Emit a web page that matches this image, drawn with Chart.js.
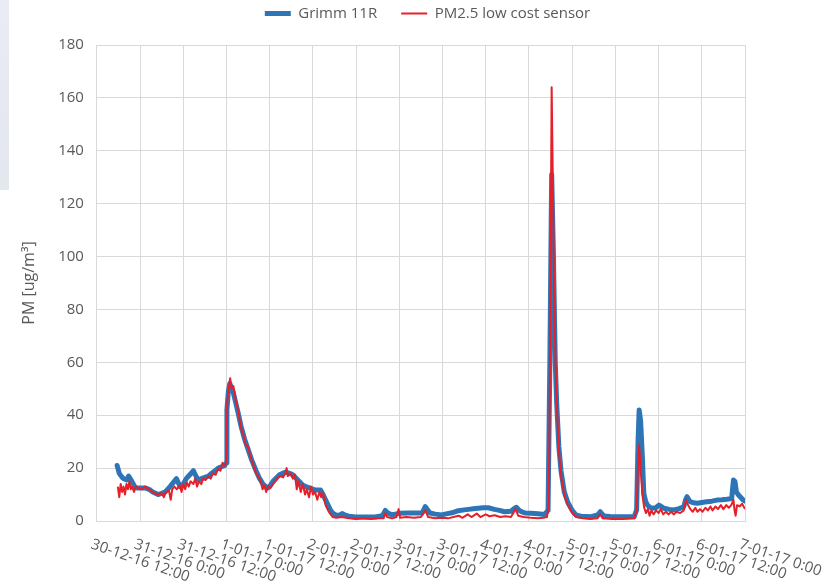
<!DOCTYPE html>
<html>
<head>
<meta charset="utf-8">
<title>Grimm 11R vs PM2.5 low cost sensor</title>
<script src="https://cdn.jsdelivr.net/npm/chart.js@4.4.1/dist/chart.umd.min.js"></script>
<style>
  html, body { margin: 0; padding: 0; background: #fff; }
  #wrap { position: relative; width: 839px; height: 584px; }
  #edge { position: absolute; left: 0; top: 0; width: 9px; height: 190px;
          background: linear-gradient(#e9ecf2, #e3e7ee); }
  canvas { position: absolute; left: 0; top: 0; }
</style>
</head>
<body>
<div id="wrap">
  <canvas id="pm-chart" width="839" height="584"></canvas>
  <div id="edge"></div>
</div>
<script>
'use strict';

// x values are hours since 30-12-16 12:00
const xTickLabels = [
  '30-12-16 12:00', '31-12-16 0:00', '31-12-16 12:00', '1-01-17 0:00',
  '1-01-17 12:00', '2-01-17 0:00', '2-01-17 12:00', '3-01-17 0:00',
  '3-01-17 12:00', '4-01-17 0:00', '4-01-17 12:00', '5-01-17 0:00',
  '5-01-17 12:00', '6-01-17 0:00', '6-01-17 12:00', '7-01-17 0:00'
];

const grimmHours = [
  5.6, 6.2, 7, 7.5, 8.3, 8.8, 9.7, 10.5, 11, 12.5,
  13.4, 14.5, 15.5, 17, 18, 19, 20.3, 21.2, 22.1, 23.1,
  24, 24.8, 25.8, 26.8, 27.5, 28.2, 29, 30, 31, 31.8,
  32.8, 33.7, 34.6, 35.5, 35.9, 36.1, 36.5, 36.9, 37.8, 38.5,
  39.2, 40, 41, 42, 43, 44.2, 45, 46.1, 47, 47.5,
  48.2, 48.9, 50, 50.7, 51.5, 52.5, 53.5, 54.4, 55.8, 57.2,
  58, 59, 60.7, 62.1, 62.8, 63.5, 64.2, 64.9, 65.5, 66.3,
  67.3, 68.2, 69, 70, 71.8, 74, 77.3, 79.3, 80.1, 80.8,
  82, 83.8, 86.6, 88.5, 90.3, 91.2, 92.5, 94, 95.8, 97,
  98.6, 100.4, 102, 103.2, 104.5, 105.9, 107.3, 108.7, 110.4, 111.8,
  113.2, 115, 116, 116.5, 117.2, 117.9, 119, 120.6, 122.5, 124.3,
  125.3, 125.8, 126.3, 126.8, 127.3, 127.7, 128.3, 128.9, 129.8, 130.8,
  132, 133.1, 134.5, 136, 137.2, 138.3, 139.1, 139.8, 140.4, 140.9,
  142.5, 144.6, 147, 149.2, 149.9, 150.3, 150.6, 151, 151.5, 151.9,
  152.4, 152.9, 153.6, 154.3, 155.2, 156.1, 156.8, 157.5, 159, 160.2,
  161.5, 163, 163.5, 163.9, 164.4, 164.8, 165.7, 166.7, 168, 169.4,
  170.8, 172.2, 173.6, 175, 176.3, 176.6, 176.8, 177.2, 177.6, 178.2,
  179.1, 179.5, 180
];
const grimmPM = [
  21, 18, 16.5, 16, 15.5, 17, 15, 13, 12.5, 12.5,
  12.5, 12, 11, 10, 10.5, 11, 13, 14.5, 16, 13,
  14, 16, 17.5, 19, 17, 15.5, 16, 16.5, 17, 18,
  19, 20, 20.5, 21, 22, 42, 49, 52, 49, 45,
  41, 36, 31, 27, 23, 19, 16.5, 14, 12.8, 12.5,
  13.5, 15, 16.5, 17.5, 18, 18.5, 18, 17.5, 15.5, 13.5,
  13, 12.5, 11.7, 11.7, 10, 8, 6, 4, 3, 2.3,
  2.2, 2.8, 2.2, 1.8, 1.5, 1.5, 1.5, 2, 4, 3,
  2.3, 2.9, 3, 3, 3, 5.4, 3, 2.6, 2.3, 2.7,
  3.1, 3.9, 4.2, 4.4, 4.6, 4.8, 5, 5, 4.4, 4,
  3.5, 3.7, 4.8, 5.2, 4.2, 3.5, 3, 2.9, 2.7, 2.5,
  4, 60, 131, 100, 60, 44.5, 28, 19, 11, 7,
  4, 2.2, 1.8, 1.7, 1.6, 2, 2.3, 3.5, 2.5, 1.9,
  1.7, 1.6, 1.6, 1.6, 4.2, 30, 42, 38, 24, 10.4,
  7.5, 6, 5.2, 4.8, 5, 6, 5.4, 4.8, 4.4, 4.2,
  4.6, 5.4, 8, 9.2, 8, 7.3, 6.9, 6.7, 7, 7.3,
  7.5, 7.9, 8, 8.2, 8.5, 13, 15.5, 15, 11, 9.8,
  8.5, 7.9, 7.5
];

const sensorHours = [
  5.8, 6.2, 6.6, 7, 7.4, 7.8, 8.2, 8.6, 9, 9.4,
  9.8, 10.3, 10.8, 11.5, 12.5, 13.4, 14.3, 15, 16, 17,
  18, 18.6, 19.2, 20, 20.5, 20.9, 21.5, 22.2, 23, 23.5,
  24, 24.5, 25, 25.5, 26, 26.8, 27.3, 27.8, 28.3, 29,
  29.5, 30.2, 31, 31.6, 32.2, 33, 33.7, 34.3, 34.9, 35.5,
  35.9, 36.2, 36.6, 37, 37.4, 37.9, 38.5, 39.2, 40, 40.6,
  41.3, 42, 42.7, 43.5, 44.2, 44.8, 45.5, 46, 46.5, 47,
  47.5, 48.2, 48.9, 49.6, 50.3, 51, 51.7, 52.3, 52.7, 53,
  53.8, 54.4, 55, 55.5, 56, 56.6, 57.2, 57.8, 58.3, 58.9,
  59.5, 60, 60.6, 61.2, 61.8, 62.3, 62.8, 63.5, 64.2, 64.9,
  65.5, 66.5, 68, 70, 72, 74, 76, 78, 79.6, 80.1,
  80.6, 82, 83.2, 83.8, 84.2, 86, 88, 90, 91.2, 92,
  94, 96, 97.5, 99, 100.5, 101.5, 103, 104, 105.5, 106.5,
  108, 109, 110.5, 112, 113.5, 115, 116.3, 117, 118.5, 120.5,
  122.5, 124, 125, 125.5, 125.8, 126.3, 126.7, 127.1, 127.7, 128.3,
  128.9, 129.8, 130.8, 132, 133.1, 135, 137, 139, 139.8, 140.5,
  143, 146, 149.2, 149.9, 150.3, 150.6, 151, 151.5, 152, 152.5,
  153, 153.5, 154, 154.6, 155.3, 156, 156.6, 157.3, 158, 158.8,
  159.5, 160.2, 161, 162, 163, 163.6, 164.2, 164.8, 165.5, 166.2,
  166.8, 167.5, 168.2, 169, 169.7, 170.4, 171, 171.8, 172.5, 173.3,
  174, 174.8, 175.5, 176.2, 176.8, 177.1, 177.4, 177.8, 178.5, 179.2,
  180
];
const sensorPM = [
  13, 9, 14, 11, 13, 10, 14, 12, 15, 12,
  13, 11, 13, 12.5, 12, 13, 12, 11.5, 10.5, 10,
  10.5, 9, 11, 11.5, 8, 12, 13, 12, 13.5, 11,
  14, 12, 14.5, 13, 15, 14, 16, 13, 15, 14,
  16, 15.5, 17, 16, 18, 17.5, 20, 19, 22, 21,
  22, 45, 50, 54, 50, 51, 46, 42, 35, 33,
  29, 28, 24, 21, 18, 17, 15, 12, 13.5, 11,
  13, 12.5, 14, 15, 16.5, 17, 16.5, 18, 20, 17,
  18, 16, 17.5, 12, 15, 11, 14, 10, 12, 9,
  13, 10, 11, 8, 11, 9, 10.5, 6, 4, 2.5,
  1.5, 1.2, 1.5, 1, 0.8, 1, 0.8, 1, 1, 3,
  1.5, 1, 1.5, 4.5, 1.2, 1.5, 1.2, 1.5, 4, 1.5,
  1, 1.2, 1, 1.5, 2, 1.2, 2.5, 1.5, 2.8, 1.5,
  2.5, 1.8, 2.2, 1.5, 1.8, 1.5, 4.5, 2, 1.5, 1.2,
  1, 1.2, 1.5, 6, 50, 164, 120, 75, 45, 27,
  17, 10, 6, 3, 1.5, 1, 0.8, 1, 2.5, 1,
  0.8, 0.8, 1, 4, 22, 28.7, 20, 10, 5, 3,
  4.5, 2, 4, 2.5, 4, 3, 4.5, 2.5, 3.5, 2.5,
  3.5, 2.5, 3.5, 3, 4, 8, 6, 4.5, 3.5, 5,
  3.5, 4.5, 3.5, 5, 4, 5.5, 4, 5.5, 4.5, 6,
  4.5, 6, 5, 6, 8, 4, 2, 6, 5.5, 6.5,
  4.5
];

const textGrey = '#595959';
const gridGrey = '#d9d9d9';

const toPoints = (hours, values) => hours.map((h, i) => ({ x: h, y: values[i] }));

// x labels slope down to the right, which Chart.js rotation can't do
const slantedXLabels = {
  id: 'slantedXLabels',
  afterDraw(chart) {
    const { ctx, chartArea, scales: { x } } = chart;
    ctx.save();
    ctx.font = '15px "Open Sans"';
    ctx.fillStyle = textGrey;
    ctx.textAlign = 'left';
    ctx.textBaseline = 'top';
    xTickLabels.forEach((label, i) => {
      ctx.save();
      ctx.translate(x.getPixelForValue(i * 12) - 3, chartArea.bottom + 16);
      ctx.rotate(19 * Math.PI / 180);
      ctx.fillText(label, 0, 0);
      ctx.restore();
    });
    ctx.restore();
  }
};

// more room under the legend row than Chart.js gives by default
const legendGap = {
  id: 'legendGap',
  beforeLayout(chart) {
    const legend = chart.legend;
    if (!legend || legend._gapPatched) return;
    const fit = legend.fit;
    legend.fit = function () { fit.call(this); this.height += 14; };
    legend._gapPatched = true;
  }
};

new Chart(document.getElementById('pm-chart').getContext('2d'), {
  type: 'line',
  data: {
    datasets: [
      { label: 'Grimm 11R', data: toPoints(grimmHours, grimmPM),
        borderColor: '#2e75b6', backgroundColor: '#2e75b6', borderWidth: 5,
        borderJoinStyle: 'round', borderCapStyle: 'round',
        pointRadius: 0, pointStyle: 'line', tension: 0, order: 1 },
      { label: 'PM2.5 low cost sensor', data: toPoints(sensorHours, sensorPM),
        borderColor: '#e5202a', backgroundColor: '#e5202a', borderWidth: 2,
        borderJoinStyle: 'round',
        pointRadius: 0, pointStyle: 'line', tension: 0, order: 0 },
    ]
  },
  options: {
    responsive: false,
    animation: false,
    devicePixelRatio: 1,
    layout: { padding: { left: 16, top: -18 } },
    plugins: {
      legend: {
        position: 'top',
        labels: {
          usePointStyle: true, pointStyleWidth: 26, padding: 24,
          color: textGrey, font: { family: 'Open Sans', size: 15 },
          sort: (a, b) => a.datasetIndex - b.datasetIndex
        }
      },
      tooltip: { enabled: false }
    },
    scales: {
      x: {
        type: 'linear', min: 0, max: 180,
        ticks: { display: false, stepSize: 12 },
        grid: { color: gridGrey, drawTicks: false },
        border: { color: gridGrey },
        afterFit: s => { s.height = 63; }
      },
      y: {
        min: 0, max: 180,
        ticks: { stepSize: 20, padding: 13, color: textGrey,
                 font: { family: 'Open Sans', size: 15 } },
        grid: { color: gridGrey, drawTicks: false },
        border: { color: gridGrey },
        title: { display: true, text: 'PM [ug/m³]', color: textGrey,
                 font: { family: 'Open Sans', size: 16 },
                 padding: { top: 4, bottom: 6 } }
      },
      yRight: {
        position: 'right', min: 0, max: 1,
        ticks: { display: false }, grid: { display: false },
        border: { display: false },
        afterFit: s => { s.width = 94; }
      }
    }
  },
  plugins: [slantedXLabels, legendGap]
});
</script>
</body>
</html>
